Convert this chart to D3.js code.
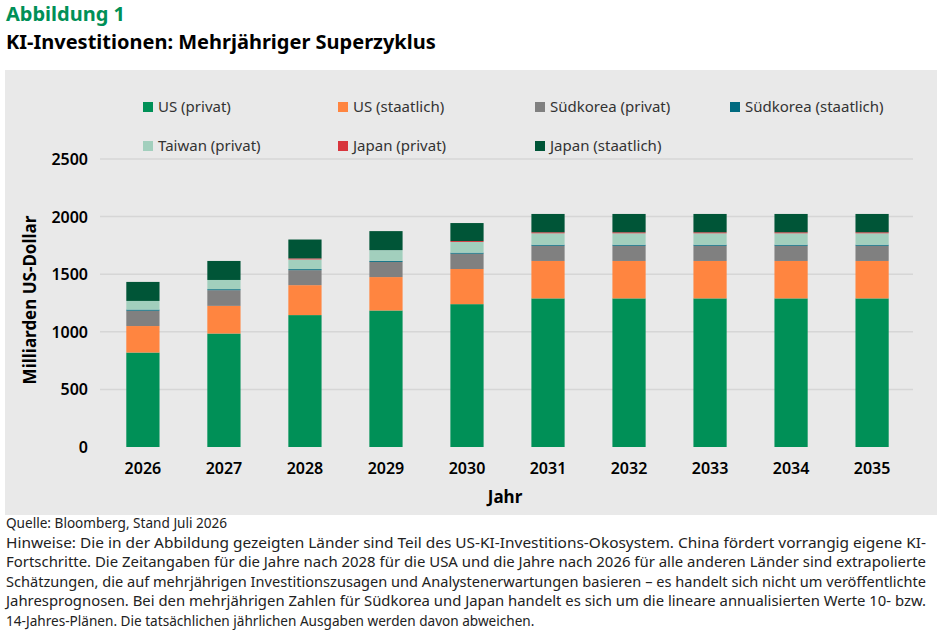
<!DOCTYPE html><html><head><meta charset="utf-8"><script src="https://cdn.jsdelivr.net/npm/d3@7"></script>
<style>body{margin:0;background:#fff;font-family:"Noto Sans",sans-serif}</style></head><body><svg id="c" width="942" height="636"></svg><script>
const years=["2026","2027","2028","2029","2030","2031","2032","2033","2034","2035"];
const seriesNames=["US (privat)","US (staatlich)","Südkorea (privat)","Südkorea (staatlich)","Taiwan (privat)","Japan (privat)","Japan (staatlich)"];
const colors=["#009057","#ff8540","#808080","#006a7f","#a2cfbd","#d8353d","#005537"];
const usPriv=[820,985,1145,1185,1240,1290,1290,1290,1290,1290];
const usStaat=[230,240,260,290,305,325,325,325,325,325];
const krPriv=[133,136,130,132,133,132,132,132,132,132];
const krStaat=[10,9,9,9,9,9,9,9,9,9];
const twPriv=[75,80,84,93,93,99,99,99,99,99];
const jpPriv=[0,0,9,0,8,9,9,9,9,9];
const jpStaat=[165,165,164,165,156,159,159,159,159,159];
const yTicks=[0,500,1000,1500,2000,2500];
const vals=[usPriv,usStaat,krPriv,krStaat,twPriv,jpPriv,jpStaat];
const svg=d3.select("#c");
svg.append("text").attr("x",6).attr("y",21).attr("font-size",20).attr("font-weight",700).attr("fill","#009057").text("Abbildung 1");
svg.append("text").attr("x",6).attr("y",49).attr("font-size",20).attr("font-weight",700).attr("fill","#000").text("KI-Investitionen: Mehrjähriger Superzyklus");
svg.append("rect").attr("x",5).attr("y",70).attr("width",932).attr("height",445).attr("fill","#e9e9e9");
const x=d3.scaleBand().domain(years).range([102,913]).paddingInner(0.59).paddingOuter(0.3);
const y=d3.scaleLinear().domain([0,2500]).range([447,159]);
const g=svg.append("g");
yTicks.forEach(t=>{ if(t>0) g.append("line").attr("x1",100).attr("x2",913).attr("y1",y(t)).attr("y2",y(t)).attr("stroke","#d6d6d6").attr("stroke-width",1.5);
 g.append("text").attr("x",88).attr("y",y(t)+6).attr("text-anchor","end").attr("font-size",16).attr("font-weight",600).text(t);});
const data=years.map((yr,i)=>{const o={year:yr};seriesNames.forEach((s,k)=>o[s]=vals[k][i]);return o;});
const st=d3.stack().keys(seriesNames)(data);
st.forEach((layer,k)=>g.selectAll(null).data(layer).join("rect").attr("x",d=>x(d.data.year)).attr("width",x.bandwidth()).attr("y",d=>y(d[1])).attr("height",d=>y(d[0])-y(d[1])).attr("fill",colors[k]));
years.forEach(yr=>g.append("text").attr("x",x(yr)+x.bandwidth()/2).attr("y",474).attr("text-anchor","middle").attr("font-size",16).attr("font-weight",600).text(yr));
svg.append("text").attr("x",505).attr("y",503).attr("text-anchor","middle").attr("font-size",17).attr("font-weight",700).text("Jahr");
svg.append("text").attr("transform","translate(36,300) rotate(-90)").attr("text-anchor","middle").attr("font-size",17).attr("font-weight",700).text("Milliarden US-Dollar");
const lx=[148,343,540,735];
seriesNames.forEach((s,k)=>{const r=Math.floor(k/4),c=k%4;const lg=svg.append("g").attr("transform",`translate(${lx[c]},${107+r*39})`);
 lg.append("rect").attr("x",-5).attr("y",-5).attr("width",10).attr("height",10).attr("fill",colors[k]);
 lg.append("text").attr("x",10).attr("y",5).attr("font-size",15).attr("fill","#333").text(s);});
const foot=["Quelle: Bloomberg, Stand Juli 2026","Hinweise: Die in der Abbildung gezeigten Länder sind Teil des US-KI-Investitions-Okosystem. China fördert vorrangig eigene KI-","Fortschritte. Die Zeitangaben für die Jahre nach 2028 für die USA und die Jahre nach 2026 für alle anderen Länder sind extrapolierte","Schätzungen, die auf mehrjährigen Investitionszusagen und Analystenerwartungen basieren – es handelt sich nicht um veröffentlichte","Jahresprognosen. Bei den mehrjährigen Zahlen für Südkorea und Japan handelt es sich um die lineare annualisierten Werte 10- bzw.","14-Jahres-Plänen. Die tatsächlichen jährlichen Ausgaben werden davon abweichen."];
foot.forEach((t,i)=>svg.append("text").attr("x",6).attr("y",528+i*19.5).attr("font-size",13.6).attr("fill","#222").attr("textLength",t.length>90?920:null).attr("lengthAdjust","spacingAndGlyphs").text(t));
</script></body></html>
